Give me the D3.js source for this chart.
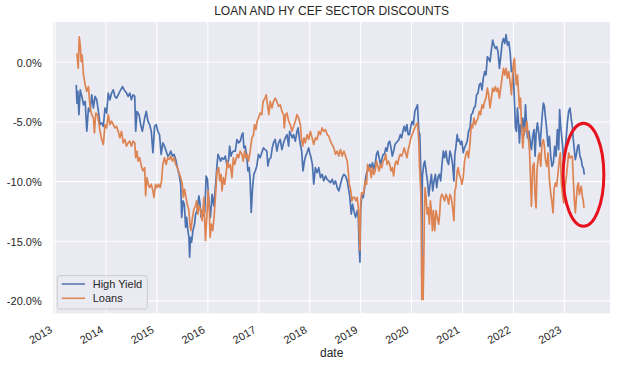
<!DOCTYPE html>
<html><head><meta charset="utf-8">
<script src="https://cdn.jsdelivr.net/npm/d3@7"></script>
<style>
body{margin:0;background:#fff;}
svg{display:block;font-family:"Liberation Sans",Arial,Helvetica,sans-serif;}
</style>
</head><body>
<svg id="chart" width="622" height="366"></svg>
<script>
// ---------------- DATA ----------------
const chartTitle = "LOAN AND HY CEF SECTOR DISCOUNTS";
const seriesNames = ["High Yield", "Loans"];
const xAxisLabel = "date";
const yTickValues = [0, -5, -10, -15, -20];
const xTickYears = [2013, 2014, 2015, 2016, 2017, 2018, 2019, 2020, 2021, 2022, 2023];

// [decimal year, discount %]
const highYield = [
[2013.416,-1.89],[2013.429,-3.42],[2013.448,-2.44],[2013.468,-4.39],[2013.494,-2.31],[2013.526,-2.86],[2013.558,-3.56],[2013.591,-3.28],[2013.623,-5.78],[2013.656,-3.83],[2013.688,-4.11],[2013.721,-2.72],[2013.753,-3.83],[2013.786,-2.86],[2013.818,-3.14],[2013.851,-4.11],[2013.883,-5.22],[2013.916,-5.08],[2013.948,-5.36],[2013.981,-3.83],[2014.013,-4.25],[2014.045,-2.58],[2014.078,-3.14],[2014.110,-2.58],[2014.143,-2.31],[2014.175,-2.86],[2014.208,-3.00],[2014.240,-2.72],[2014.273,-2.44],[2014.325,-2.03],[2014.357,-2.31],[2014.403,-2.58],[2014.435,-2.86],[2014.468,-2.58],[2014.500,-3.14],[2014.532,-2.72],[2014.565,-2.86],[2014.584,-5.78],[2014.610,-4.11],[2014.649,-4.39],[2014.682,-5.22],[2014.714,-5.78],[2014.760,-4.67],[2014.792,-4.11],[2014.825,-4.94],[2014.857,-5.22],[2014.890,-5.78],[2014.922,-7.58],[2014.955,-5.36],[2014.987,-5.22],[2015.019,-5.78],[2015.052,-6.06],[2015.084,-7.72],[2015.117,-6.75],[2015.149,-7.03],[2015.182,-7.44],[2015.214,-7.86],[2015.247,-7.72],
[2015.273,-7.44],[2015.305,-7.86],[2015.338,-7.72],[2015.370,-8.14],[2015.403,-8.83],[2015.435,-9.39],[2015.468,-10.22],[2015.487,-13.00],[2015.513,-11.61],[2015.539,-11.89],[2015.565,-13.83],[2015.584,-13.00],[2015.610,-14.11],[2015.630,-14.67],[2015.643,-16.33],[2015.662,-14.67],[2015.682,-15.08],[2015.708,-14.11],[2015.740,-13.56],[2015.760,-12.72],[2015.792,-12.44],[2015.825,-11.19],[2015.844,-11.75],[2015.870,-13.00],[2015.890,-12.44],[2015.922,-12.86],[2015.942,-12.44],[2015.968,-9.53],[2015.994,-9.81],[2016.019,-11.61],[2016.052,-13.00],[2016.084,-11.06],[2016.117,-12.03],[2016.149,-10.50],[2016.182,-8.56],[2016.201,-7.72],[2016.227,-8.00],[2016.253,-8.28],[2016.279,-8.00],[2016.312,-8.14],[2016.344,-7.86],[2016.377,-8.69],[2016.409,-8.14],[2016.429,-7.03],[2016.455,-7.86],[2016.474,-7.58],[2016.506,-7.44],[2016.539,-7.44],[2016.571,-6.47],[2016.604,-6.75],[2016.636,-6.61],[2016.669,-6.06],[2016.688,-5.92],[2016.708,-7.17],[2016.734,-7.03],[2016.766,-8.00],[2016.786,-9.11],[2016.812,-8.83],[2016.831,-9.94],[2016.851,-12.58],[2016.877,-10.50],[2016.903,-9.39],[2016.929,-9.11],[2016.961,-8.69],[2016.994,-7.72],[2017.026,-8.00],[2017.058,-7.58],[2017.091,-7.17],[2017.123,-7.31],
[2017.158,-7.44],[2017.178,-8.69],[2017.204,-8.14],[2017.237,-8.00],[2017.263,-7.17],[2017.289,-6.75],[2017.322,-6.47],[2017.355,-7.44],[2017.388,-6.75],[2017.421,-6.47],[2017.454,-7.31],[2017.487,-6.75],[2017.520,-6.33],[2017.553,-6.06],[2017.586,-7.03],[2017.605,-5.78],[2017.632,-6.06],[2017.658,-6.33],[2017.684,-6.06],[2017.717,-6.61],[2017.750,-5.78],[2017.770,-5.50],[2017.796,-6.33],[2017.816,-6.89],[2017.842,-7.44],[2017.868,-9.11],[2017.895,-8.28],[2017.921,-7.86],[2017.947,-7.58],[2017.980,-7.17],[2018.000,-7.58],[2018.026,-8.00],[2018.053,-8.56],[2018.079,-10.22],[2018.112,-8.83],[2018.145,-9.25],[2018.178,-8.83],[2018.211,-9.67],[2018.243,-9.39],[2018.276,-9.94],[2018.309,-9.53],[2018.342,-9.81],[2018.375,-9.94],[2018.408,-10.08],[2018.441,-9.81],[2018.474,-10.22],[2018.507,-9.94],[2018.539,-10.50],[2018.572,-10.78],[2018.605,-10.22],[2018.638,-9.67],[2018.671,-9.39],[2018.704,-9.53],[2018.737,-9.94],[2018.770,-10.78],[2018.789,-11.33],[2018.816,-12.72],[2018.842,-11.89],[2018.868,-12.44],[2018.901,-13.00],[2018.934,-12.44],[2018.954,-13.00],[2018.974,-15.78],[2018.987,-16.75],
[2019.000,-12.44],[2019.026,-11.06],[2019.052,-11.33],[2019.078,-10.50],[2019.104,-9.53],[2019.130,-9.11],[2019.156,-8.83],[2019.182,-8.56],[2019.208,-8.83],[2019.234,-8.42],[2019.260,-8.97],[2019.286,-8.56],[2019.312,-7.72],[2019.338,-7.44],[2019.364,-8.00],[2019.390,-8.56],[2019.416,-8.14],[2019.442,-7.72],[2019.468,-7.72],[2019.494,-7.17],[2019.519,-7.44],[2019.545,-6.75],[2019.571,-6.61],[2019.597,-7.17],[2019.623,-7.86],[2019.649,-7.44],[2019.675,-6.89],[2019.701,-6.75],[2019.727,-6.61],[2019.753,-6.47],[2019.779,-6.06],[2019.805,-6.33],[2019.831,-5.78],[2019.857,-5.36],[2019.883,-5.78],[2019.909,-5.22],[2019.935,-6.06],[2019.961,-6.06],[2019.987,-5.36],[2020.013,-4.94],[2020.039,-5.22],[2020.065,-4.11],[2020.091,-3.83],[2020.117,-3.56],[2020.143,-5.78],[2020.162,-6.06],[2020.182,-9.11],[2020.195,-9.94],[2020.201,-17.90],[2020.208,-12.00],[2020.214,-9.50],[2020.240,-8.56],[2020.260,-8.28],[2020.286,-9.11],[2020.312,-9.94],[2020.338,-11.19],[2020.364,-10.22],[2020.390,-9.39],[2020.416,-10.78],[2020.442,-9.94],[2020.468,-9.39],[2020.494,-10.50],[2020.519,-9.67],[2020.545,-9.39],[2020.571,-9.94],[2020.597,-8.56],[2020.623,-7.44],[2020.649,-8.00],[2020.675,-7.44],[2020.701,-8.28],[2020.727,-8.56],[2020.753,-7.44],[2020.779,-7.86],[2020.805,-8.56],[2020.831,-9.94],
[2020.849,-7.72],[2020.868,-7.17],[2020.895,-6.06],[2020.914,-6.61],[2020.934,-6.47],[2020.961,-6.89],[2020.987,-6.61],[2021.013,-7.58],[2021.039,-7.17],[2021.066,-6.89],[2021.092,-6.61],[2021.118,-5.78],[2021.145,-5.50],[2021.171,-4.39],[2021.197,-4.25],[2021.224,-3.83],[2021.250,-3.69],[2021.276,-2.72],[2021.303,-2.58],[2021.329,-1.89],[2021.355,-1.75],[2021.382,-2.31],[2021.408,-1.33],[2021.434,-0.78],[2021.461,-1.06],[2021.487,0.47],[2021.513,0.33],[2021.539,0.06],[2021.566,1.03],[2021.592,1.86],[2021.618,1.44],[2021.645,1.17],[2021.671,1.31],[2021.697,0.89],[2021.724,-0.50],[2021.750,0.47],[2021.776,1.58],[2021.803,2.00],[2021.829,1.58],[2021.855,2.33],[2021.882,1.44],[2021.908,1.72],[2021.934,0.89],[2021.961,-0.78],[2021.980,-0.50],[2022.000,-1.33],[2022.020,-3.28],[2022.039,-5.50],[2022.059,-5.78],[2022.079,-3.83],[2022.099,-4.94],[2022.118,-6.75],[2022.138,-5.22],[2022.158,-5.78],[2022.184,-4.67],[2022.211,-6.06],[2022.237,-3.56],[2022.257,-5.22],[2022.276,-6.33],[2022.303,-5.78],
[2022.353,-7.32],[2022.379,-6.20],[2022.405,-5.64],[2022.425,-7.88],[2022.444,-6.06],[2022.471,-5.08],[2022.497,-5.92],[2022.523,-7.04],[2022.549,-5.36],[2022.569,-4.25],[2022.588,-3.41],[2022.608,-3.69],[2022.627,-4.53],[2022.654,-5.64],[2022.680,-7.04],[2022.706,-6.20],[2022.732,-7.88],[2022.758,-8.72],[2022.784,-8.44],[2022.810,-7.04],[2022.837,-7.88],[2022.863,-5.64],[2022.889,-7.32],[2022.908,-3.97],[2022.928,-5.36],[2022.948,-6.20],[2022.967,-7.04],[2022.987,-8.44],[2023.007,-7.88],[2023.033,-6.48],[2023.059,-5.08],[2023.085,-4.11],[2023.111,-3.83],[2023.137,-4.80],[2023.157,-5.36],[2023.176,-6.48],[2023.196,-7.32],[2023.216,-8.16],[2023.242,-7.60],[2023.261,-7.04],[2023.281,-6.90],[2023.307,-7.88],[2023.333,-8.16],[2023.353,-8.72],[2023.373,-8.85],[2023.392,-9.41]
];

const loans = [
[2013.429,0.75],[2013.455,-0.50],[2013.474,2.14],[2013.494,1.44],[2013.513,0.06],[2013.532,0.61],[2013.558,-1.06],[2013.591,-1.89],[2013.623,-2.44],[2013.656,-2.03],[2013.688,-3.83],[2013.721,-4.39],[2013.753,-4.67],[2013.773,-5.92],[2013.799,-4.25],[2013.831,-4.39],[2013.864,-5.22],[2013.883,-5.78],[2013.916,-6.47],[2013.948,-6.89],[2013.981,-5.22],[2014.013,-5.50],[2014.045,-4.39],[2014.078,-5.22],[2014.110,-4.94],[2014.143,-5.22],[2014.175,-5.50],[2014.208,-5.36],[2014.240,-5.78],[2014.273,-6.33],[2014.305,-5.78],[2014.338,-6.75],[2014.370,-6.47],[2014.403,-7.03],[2014.435,-6.75],[2014.468,-6.61],[2014.500,-7.03],[2014.532,-6.61],[2014.565,-6.75],[2014.584,-8.00],[2014.610,-7.44],[2014.630,-8.28],[2014.662,-8.00],[2014.695,-8.69],[2014.727,-9.11],[2014.760,-8.83],[2014.779,-11.19],[2014.805,-9.67],[2014.831,-10.22],[2014.857,-10.50],[2014.890,-10.22],[2014.922,-10.78],[2014.942,-11.33],[2014.974,-10.22],[2015.000,-10.50],[2015.032,-10.22],[2015.065,-10.50],[2015.091,-9.94],[2015.117,-8.56],[2015.149,-8.00],[2015.182,-8.56],[2015.214,-8.00],[2015.247,-8.14],
[2015.273,-7.86],[2015.305,-8.28],[2015.338,-8.00],[2015.370,-8.56],[2015.403,-8.83],[2015.435,-9.25],[2015.468,-9.67],[2015.500,-10.22],[2015.519,-11.33],[2015.545,-10.64],[2015.565,-11.19],[2015.597,-11.89],[2015.630,-12.44],[2015.649,-13.56],[2015.669,-14.11],[2015.695,-13.14],[2015.727,-12.31],[2015.760,-12.03],[2015.779,-11.61],[2015.805,-12.72],[2015.825,-12.03],[2015.857,-12.31],[2015.890,-13.28],[2015.922,-11.33],[2015.942,-13.56],[2015.955,-14.94],[2015.981,-13.00],[2016.006,-10.78],[2016.026,-11.89],[2016.045,-14.67],[2016.071,-13.56],[2016.097,-14.11],[2016.123,-13.00],[2016.149,-11.33],[2016.182,-9.11],[2016.214,-8.83],[2016.234,-9.94],[2016.260,-9.39],[2016.279,-10.78],[2016.305,-9.67],[2016.331,-10.22],[2016.357,-9.39],[2016.383,-8.28],[2016.409,-8.83],[2016.442,-8.56],[2016.474,-9.67],[2016.500,-8.00],[2016.526,-8.56],[2016.552,-8.14],[2016.578,-7.72],[2016.604,-8.00],[2016.636,-7.44],[2016.669,-7.72],[2016.695,-8.28],[2016.721,-7.44],[2016.747,-8.00],[2016.773,-7.72],[2016.799,-8.28],[2016.831,-7.44],[2016.864,-6.33],[2016.896,-6.06],[2016.916,-5.22],[2016.942,-5.64],[2016.968,-4.94],[2016.994,-4.67],[2017.026,-4.25],[2017.058,-4.39],[2017.084,-3.28],[2017.123,-3.00],
[2017.145,-2.72],[2017.171,-3.56],[2017.197,-4.39],[2017.224,-3.28],[2017.257,-3.83],[2017.289,-3.28],[2017.322,-3.00],[2017.355,-3.28],[2017.388,-3.69],[2017.421,-3.56],[2017.454,-4.11],[2017.487,-4.39],[2017.500,-5.50],[2017.526,-4.39],[2017.553,-4.25],[2017.586,-4.94],[2017.618,-5.22],[2017.651,-5.78],[2017.684,-5.36],[2017.717,-4.94],[2017.750,-4.39],[2017.783,-4.67],[2017.816,-5.22],[2017.836,-6.33],[2017.862,-7.03],[2017.888,-6.33],[2017.914,-6.75],[2017.947,-6.06],[2017.980,-6.47],[2018.013,-5.78],[2018.046,-6.33],[2018.079,-6.89],[2018.112,-6.33],[2018.145,-6.47],[2018.178,-5.78],[2018.211,-6.06],[2018.243,-5.50],[2018.276,-5.78],[2018.309,-5.64],[2018.342,-6.06],[2018.375,-6.19],[2018.408,-6.61],[2018.441,-6.89],[2018.474,-7.17],[2018.507,-7.72],[2018.539,-7.44],[2018.572,-7.86],[2018.605,-7.31],[2018.638,-7.86],[2018.671,-7.44],[2018.704,-7.86],[2018.737,-8.28],[2018.757,-9.11],[2018.776,-10.22],[2018.803,-10.64],[2018.829,-11.61],[2018.855,-11.33],[2018.882,-11.33],[2018.908,-11.61],[2018.934,-11.33],[2018.954,-12.17],[2018.974,-14.11],[2018.987,-15.78],
[2019.000,-11.89],[2019.019,-10.92],[2019.045,-11.06],[2019.065,-10.78],[2019.091,-9.94],[2019.117,-10.22],[2019.136,-8.56],[2019.156,-9.11],[2019.182,-8.83],[2019.208,-9.67],[2019.234,-8.83],[2019.260,-9.39],[2019.286,-9.11],[2019.312,-8.28],[2019.338,-8.69],[2019.364,-9.11],[2019.390,-8.56],[2019.416,-8.83],[2019.442,-8.28],[2019.468,-8.14],[2019.494,-7.72],[2019.519,-8.56],[2019.545,-8.28],[2019.571,-8.56],[2019.597,-9.11],[2019.623,-8.83],[2019.649,-9.53],[2019.675,-8.56],[2019.701,-8.28],[2019.727,-8.56],[2019.753,-8.00],[2019.779,-7.72],[2019.805,-7.86],[2019.831,-7.58],[2019.857,-7.17],[2019.883,-7.58],[2019.909,-8.00],[2019.935,-7.31],[2019.961,-6.89],[2019.987,-6.33],[2020.013,-6.06],[2020.039,-5.78],[2020.065,-5.50],[2020.091,-5.22],[2020.117,-5.08],[2020.130,-5.78],[2020.143,-6.61],[2020.156,-8.56],[2020.169,-9.81],[2020.182,-10.78],[2020.195,-13.56],[2020.201,-19.89],[2020.214,-16.33],[2020.227,-19.89],[2020.240,-16.89],[2020.253,-12.44],[2020.266,-10.50],[2020.286,-11.33],[2020.305,-12.72],[2020.325,-12.17],[2020.351,-13.56],[2020.370,-11.61],[2020.390,-12.44],[2020.409,-14.11],[2020.429,-12.44],[2020.455,-14.11],[2020.481,-12.44],[2020.506,-13.00],[2020.532,-13.56],[2020.552,-12.72],[2020.571,-11.33],[2020.597,-11.06],[2020.623,-11.33],[2020.649,-11.61],[2020.675,-11.06],[2020.701,-11.33],[2020.727,-11.89],[2020.753,-11.06],[2020.779,-11.33],[2020.805,-12.17],[2020.831,-13.28],
[2020.849,-10.78],[2020.868,-10.50],[2020.895,-9.11],[2020.914,-8.83],[2020.934,-9.39],[2020.961,-9.67],[2020.987,-10.22],[2021.013,-9.67],[2021.039,-8.28],[2021.066,-7.72],[2021.092,-7.44],[2021.118,-8.00],[2021.145,-6.89],[2021.171,-5.22],[2021.197,-5.50],[2021.224,-4.67],[2021.250,-5.22],[2021.276,-4.94],[2021.303,-4.67],[2021.329,-4.11],[2021.355,-4.39],[2021.382,-3.56],[2021.408,-3.83],[2021.434,-3.28],[2021.461,-3.00],[2021.487,-2.17],[2021.513,-2.72],[2021.539,-3.83],[2021.566,-3.00],[2021.592,-2.17],[2021.618,-2.44],[2021.645,-2.03],[2021.671,-2.44],[2021.697,-2.17],[2021.724,-3.00],[2021.750,-2.17],[2021.776,-1.33],[2021.803,-0.50],[2021.829,-1.06],[2021.855,-0.50],[2021.882,-1.33],[2021.908,-0.78],[2021.934,-1.61],[2021.961,-2.72],[2021.980,-1.33],[2022.000,-0.08],[2022.020,0.33],[2022.039,-1.06],[2022.059,-1.89],[2022.079,-1.06],[2022.099,-2.44],[2022.118,-3.83],[2022.138,-3.00],[2022.158,-5.22],[2022.184,-7.17],[2022.211,-5.50],[2022.237,-5.78],[2022.263,-4.94],[2022.289,-6.06],[2022.316,-7.44],
[2022.353,-12.07],[2022.379,-8.72],[2022.405,-8.44],[2022.425,-11.23],[2022.444,-12.21],[2022.464,-8.99],[2022.490,-7.88],[2022.510,-7.60],[2022.536,-8.72],[2022.562,-6.76],[2022.588,-6.48],[2022.608,-7.04],[2022.627,-8.16],[2022.654,-8.72],[2022.680,-7.60],[2022.706,-9.83],[2022.732,-10.95],[2022.758,-11.79],[2022.778,-12.63],[2022.797,-10.67],[2022.824,-10.11],[2022.850,-10.39],[2022.876,-9.27],[2022.902,-8.16],[2022.922,-7.60],[2022.941,-10.11],[2022.967,-11.23],[2022.987,-11.79],[2023.007,-10.67],[2023.033,-9.83],[2023.059,-8.72],[2023.085,-7.60],[2023.111,-8.02],[2023.137,-7.88],[2023.157,-7.88],[2023.176,-9.83],[2023.196,-11.51],[2023.216,-12.63],[2023.235,-11.51],[2023.255,-10.39],[2023.275,-10.11],[2023.294,-11.09],[2023.314,-10.67],[2023.333,-10.39],[2023.353,-11.23],[2023.373,-11.65],[2023.386,-12.21]
];

// highlighted region (red ellipse annotation): centre and half-extents in data units
const highlightYear = 2023.376, highlightValue = -9.43, highlightYearHalf = 0.40, highlightValueHalf = 4.32;

// ---------------- STYLE ----------------
const colors = ["#4C72B0", "#DD8452"];
const textColor = "#262626";
const W = 622, H = 366;
const plot = {left: 53.3, right: 610, top: 22, bottom: 313.3};

function toDate(y) {
  const Y = Math.floor(y);
  const s = new Date(Y, 0, 1), e = new Date(Y + 1, 0, 1);
  return new Date(+s + (y - Y) * (e - s));
}

const svg = d3.select("#chart");
const x = d3.scaleTime().domain([toDate(2012.965), toDate(2023.897)]).range([plot.left, plot.right]);
const y = d3.scaleLinear().domain([-21.04, 3.38]).range([plot.bottom, plot.top]);

// background
svg.append("rect").attr("width", W).attr("height", H).attr("fill", "#fff");
svg.append("rect").attr("x", plot.left).attr("y", plot.top)
  .attr("width", plot.right - plot.left).attr("height", plot.bottom - plot.top).attr("fill", "#EAEAF2");

// grid
const grid = svg.append("g");
grid.selectAll(".gx").data(xTickYears).join("line")
  .attr("x1", d => x(new Date(d, 0, 1))).attr("x2", d => x(new Date(d, 0, 1)))
  .attr("y1", plot.top).attr("y2", plot.bottom).attr("stroke", "#fff").attr("stroke-width", 1.1);
grid.selectAll(".gy").data(yTickValues).join("line")
  .attr("x1", plot.left).attr("x2", plot.right)
  .attr("y1", d => y(d)).attr("y2", d => y(d)).attr("stroke", "#fff").attr("stroke-width", 1.1);

// clip
svg.append("clipPath").attr("id", "clip").append("rect")
  .attr("x", plot.left).attr("y", plot.top).attr("width", plot.right - plot.left).attr("height", plot.bottom - plot.top);

const line = d3.line().x(d => x(toDate(d[0]))).y(d => y(d[1]));
const lines = svg.append("g").attr("clip-path", "url(#clip)");
[highYield, loans].forEach((s, i) => {
  lines.append("path").datum(s).attr("d", line).attr("fill", "none")
    .attr("stroke", colors[i]).attr("stroke-width", 1.7)
    .attr("stroke-linejoin", "round").attr("stroke-linecap", "butt");
});

// Y axis
const yAxis = svg.append("g").attr("transform", `translate(${plot.left},0)`)
  .call(d3.axisLeft(y).tickValues(yTickValues).tickSize(0).tickPadding(11.6)
    .tickFormat(d => d.toFixed(1) + "%"));
yAxis.select(".domain").remove();
yAxis.selectAll("text").attr("font-size", 11).attr("fill", textColor)
  .attr("font-family", '"Liberation Sans",Arial,sans-serif').attr("dy", "0.34em");

// X axis
const xAxis = svg.append("g").attr("transform", `translate(0,${plot.bottom})`)
  .call(d3.axisBottom(x).tickValues(xTickYears.map(d => new Date(d, 0, 1))).tickSize(0)
    .tickFormat(d3.timeFormat("%Y")));
xAxis.select(".domain").remove();
xAxis.selectAll("text").attr("font-size", 11).attr("fill", textColor)
  .attr("font-family", '"Liberation Sans",Arial,sans-serif')
  .attr("y", 0).attr("dy", 0).attr("text-anchor", "end")
  .attr("transform", "translate(-2.5,18.7) rotate(-30)");

// title & axis label
svg.append("text").attr("x", (plot.left + plot.right) / 2).attr("y", 15.3)
  .attr("text-anchor", "middle").attr("font-size", 12).attr("fill", textColor).text(chartTitle);
svg.append("text").attr("x", (plot.left + plot.right) / 2).attr("y", 356.5)
  .attr("text-anchor", "middle").attr("font-size", 12).attr("fill", textColor).text(xAxisLabel);

// legend
const lg = svg.append("g");
lg.append("rect").attr("x", 57.3).attr("y", 275.7).attr("width", 90).attr("height", 33.3)
  .attr("rx", 2.5).attr("fill", "#EAEAF2").attr("fill-opacity", 0.8)
  .attr("stroke", "#cccccc").attr("stroke-width", 1);
seriesNames.forEach((n, i) => {
  const yy = 284 + i * 14.3;
  lg.append("line").attr("x1", 61.7).attr("x2", 85).attr("y1", yy).attr("y2", yy)
    .attr("stroke", colors[i]).attr("stroke-width", 1.5);
  lg.append("text").attr("x", 92.7).attr("y", yy).attr("dy", "0.36em")
    .attr("font-size", 11).attr("fill", textColor).text(n);
});

// red ellipse annotation
const cx = x(toDate(highlightYear)), cy = y(highlightValue);
const rx = x(toDate(highlightYear + highlightYearHalf)) - cx;
const ry = y(highlightValue - highlightValueHalf) - cy;
svg.append("ellipse").attr("cx", cx).attr("cy", cy).attr("rx", rx).attr("ry", ry)
  .attr("fill", "none").attr("stroke", "#E8121C").attr("stroke-width", 3);
</script>
</body></html>
